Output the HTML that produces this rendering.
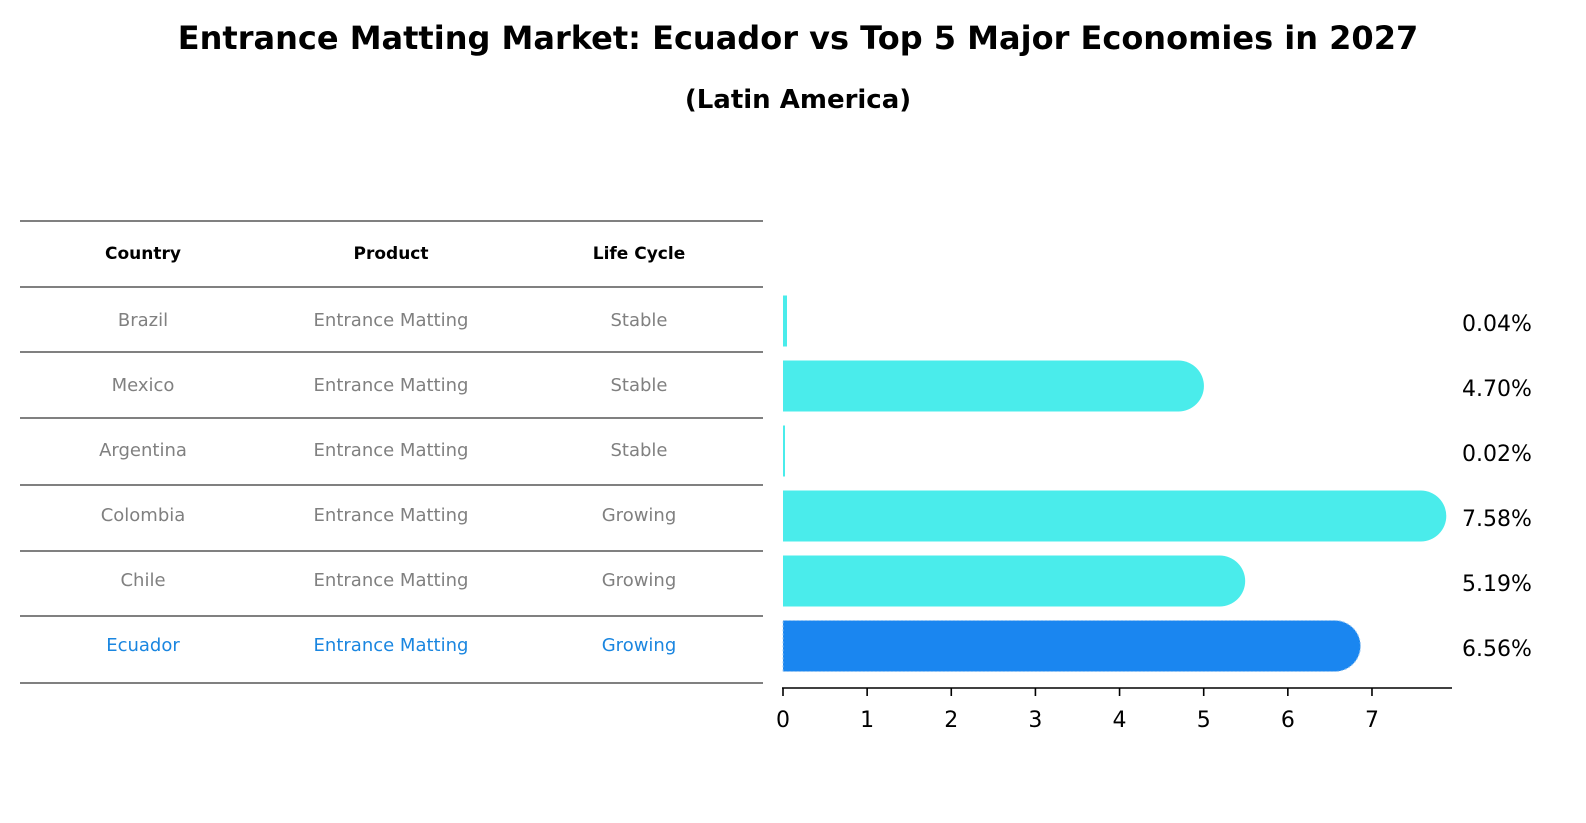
<!DOCTYPE html>
<html><head><meta charset="utf-8"><style>body{margin:0;background:#fff}svg{display:block;font-family:"DejaVu Sans","Liberation Sans",sans-serif}</style></head>
<body>
<svg id="c" width="1586" height="823">
<text x="798" y="49" text-anchor="middle" font-size="32" font-weight="bold">Entrance Matting Market: Ecuador vs Top 5 Major Economies in 2027</text>
<text x="798" y="108" text-anchor="middle" font-size="26" font-weight="bold">(Latin America)</text>
<g id="tbl"></g>
<g id="bars"></g>
</svg>
<script>
const countries=["Brazil","Mexico","Argentina","Colombia","Chile","Ecuador"];
const products=["Entrance Matting","Entrance Matting","Entrance Matting","Entrance Matting","Entrance Matting","Entrance Matting"];
const lifeCycles=["Stable","Stable","Stable","Growing","Growing","Growing"];
const values=[0.04,4.70,0.02,7.58,5.19,6.56];
const labels=["0.04%","4.70%","0.02%","7.58%","5.19%","6.56%"];
const ticks=[0,1,2,3,4,5,6,7];
const NS="http://www.w3.org/2000/svg";
function mk(p,t,a,txt){const e=document.createElementNS(NS,t);for(const k in a)e.setAttribute(k,a[k]);if(txt!==undefined)e.textContent=txt;p.appendChild(e);return e;}
const tbl=document.getElementById('tbl'),bars=document.getElementById('bars');
const lineYs=[221,287,352,418,485,551,616,683];
lineYs.forEach(y=>{const l=mk(tbl,'line',{x1:20,x2:763,y1:y,y2:y,stroke:'#000','stroke-width':1});

});
const colX=[143,391,639];
["Country","Product","Life Cycle"].forEach((h,i)=>{const t=mk(tbl,'text',{x:colX[i],y:259,'text-anchor':'middle','font-size':17,'font-weight':'bold'},h);

});
const rowY=i=>320+i*65;
const x=v=>783+v*84.14;
countries.forEach((c,i)=>{
  const last=i===countries.length-1, col=last?'#1a86e0':'#808080';
  [c,products[i],lifeCycles[i]].forEach((s,j)=>{const t=mk(tbl,'text',{x:colX[j],y:rowY(i)+6,'text-anchor':'middle','font-size':18,fill:col},s);
  
  });
  const h=51,y0=rowY(i)-h/2+1,w=x(values[i])-783,r=h/2;
  const fill=last?'#1a86f0':'#4aeceb';
  let d;
  if(w<6){const bw=values[i]>0.03?4:2;d=`M783 ${y0}h${bw}v${h}h${-bw}z`;}
  else d=`M783 ${y0}H${783+w}A${r} ${r} 0 0 1 ${783+w} ${y0+h}H783z`;
  const b=mk(bars,'path',{d,fill});
  if(last){b.setAttribute('stroke','#9cc8f0');b.setAttribute('stroke-dasharray','2 2');b.setAttribute('stroke-width',1);}
  
  
  const t=mk(bars,'text',{x:1462,y:rowY(i)+11,'font-size':22},labels[i]);
  
  
});
const ax=mk(bars,'line',{x1:782,x2:1452,y1:688,y2:688,stroke:'#000','stroke-width':1.6});


ticks.forEach(v=>{const l=mk(bars,'line',{x1:x(v),x2:x(v),y1:688,y2:696,stroke:'#000','stroke-width':1.6});


const t=mk(bars,'text',{x:x(v),y:727,'text-anchor':'middle','font-size':22},String(v));

});
</script>
</body></html>
